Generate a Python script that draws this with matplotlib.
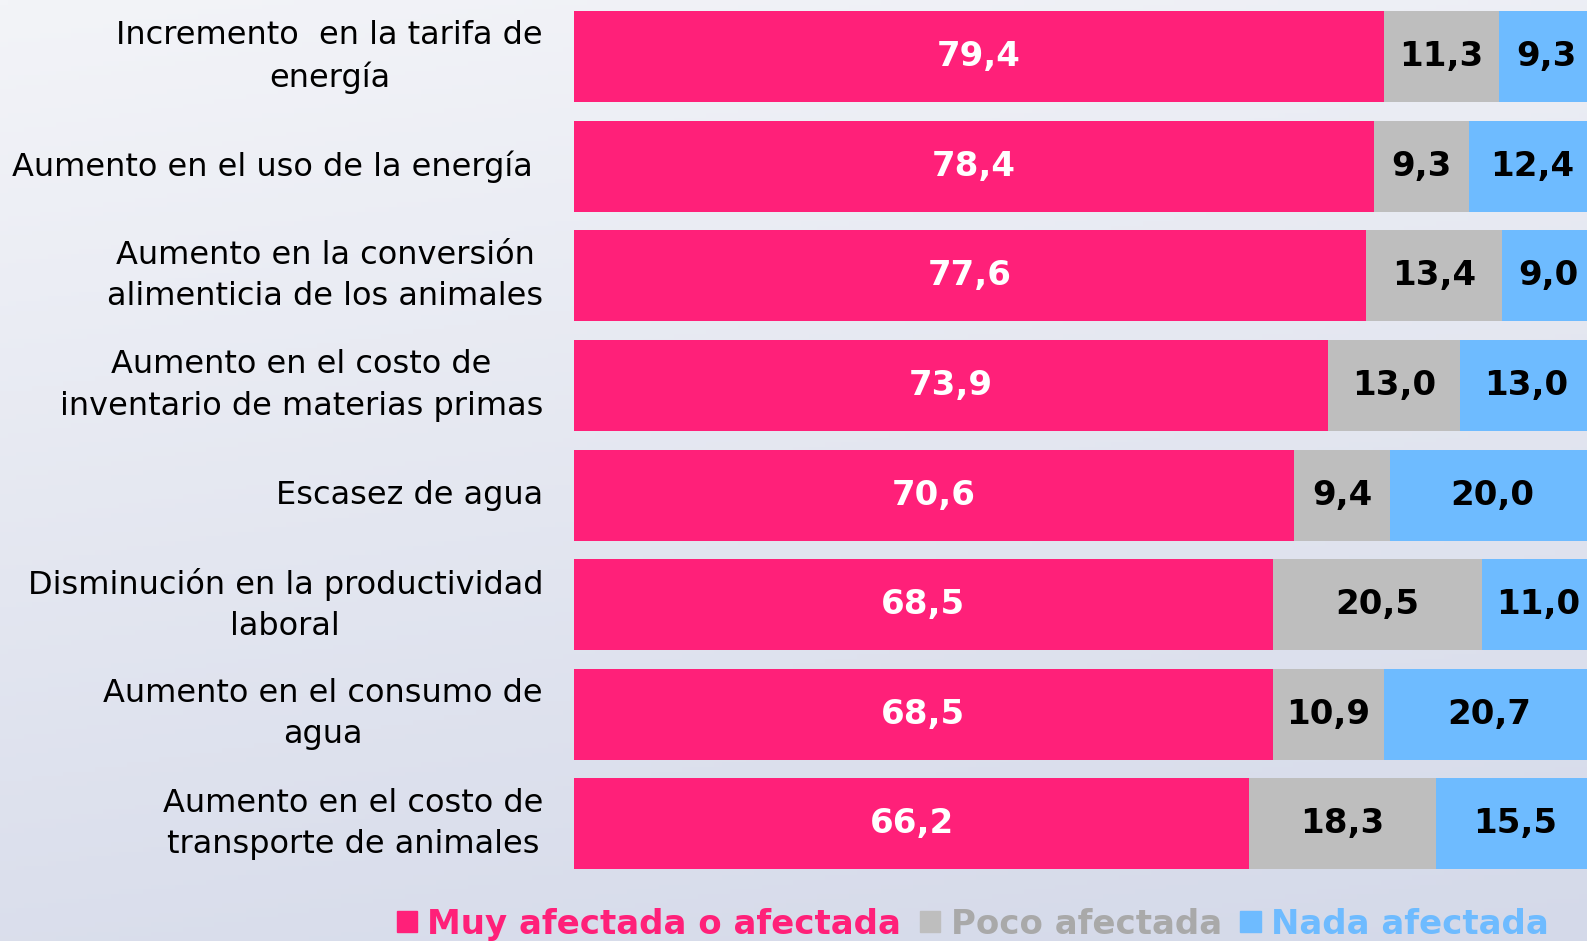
import matplotlib
matplotlib.use("Agg")
import matplotlib.pyplot as plt
import numpy as np
from matplotlib.patches import Patch

categories = [
    "Incremento  en la tarifa de\nenergía",
    "Aumento en el uso de la energía ",
    "Aumento en la conversión\nalimenticia de los animales",
    "Aumento en el costo de\ninventario de materias primas",
    "Escasez de agua",
    "Disminución en la productividad\nlaboral",
    "Aumento en el consumo de\nagua",
    "Aumento en el costo de\ntransporte de animales",
]
muy = [79.4, 78.4, 77.6, 73.9, 70.6, 68.5, 68.5, 66.2]
poco = [11.3, 9.3, 13.4, 13.0, 9.4, 20.5, 10.9, 18.3]
nada = [9.3, 12.4, 9.0, 13.0, 20.0, 11.0, 20.7, 15.5]
series_names = ["Muy afectada o afectada", "Poco afectada", "Nada afectada"]

c_muy = "#FF2079"
c_poco = "#BEBEBE"
c_nada = "#6EBBFF"

W, H = 1587, 941
fig = plt.figure(figsize=(W / 100, H / 100), dpi=100)

# background gradient
bg = fig.add_axes([0, 0, 1, 1])
yy, xx = np.mgrid[0:1:200j, 0:1:200j]
t = np.clip(0.8 * yy + 0.2 * xx, 0, 1)
top = np.array([0xF3, 0xF4, 0xF8]) / 255
bot = np.array([0xD4, 0xD9, 0xE9]) / 255
img = top[None, None, :] * (1 - t[..., None]) + bot[None, None, :] * t[..., None]
bg.imshow(img, aspect="auto", extent=[0, 1, 0, 1], origin="upper")
bg.axis("off")

left_px = 574
px_per_unit = 10.2
ax = fig.add_axes([left_px / W, 1 - 878.7 / H, (W - left_px) / W, 876.8 / H])
ax.set_xlim(0, (W - left_px) / px_per_unit)
ax.set_ylim(len(categories) - 0.5, -0.5)
ax.axis("off")

y = np.arange(len(categories))
h = 0.83
muy_a = np.array(muy)
poco_a = np.array(poco)
nada_a = np.array(nada)
ax.barh(y, muy_a, height=h, color=c_muy)
ax.barh(y, poco_a, left=muy_a, height=h, color=c_poco)
ax.barh(y, nada_a, left=muy_a + poco_a, height=h, color=c_nada)

fmt = lambda v: f"{v:.1f}".replace(".", ",")
numfont = dict(fontsize=24.5, fontweight="bold", family="DejaVu Sans", va="center", ha="center")
for i in range(len(categories)):
    ax.text(muy_a[i] / 2, y[i], fmt(muy_a[i]), color="white", **numfont)
    ax.text(muy_a[i] + poco_a[i] / 2, y[i], fmt(poco_a[i]), color="black", **numfont)
    ax.text(muy_a[i] + poco_a[i] + nada_a[i] / 2, y[i], fmt(nada_a[i]), color="black", **numfont)
    ax.text(-31 / px_per_unit, y[i], categories[i], ha="right", va="center",
            multialignment="center", fontsize=23, family="DejaVu Sans", color="black",
            linespacing=1.42)

handles = [Patch(color=c_muy), Patch(color=c_poco), Patch(color=c_nada)]
leg = fig.legend(handles, series_names, loc="center", ncol=3,
                 bbox_to_anchor=(0.613, 0.018), frameon=False,
                 prop=dict(family="DejaVu Sans", weight="bold", size=24.5),
                 handlelength=0.6, handleheight=0.6, handletextpad=0.3,
                 columnspacing=0.55, labelcolor=[c_muy, "#A9A9A9", c_nada])

fig.savefig("out.png", dpi=100)
